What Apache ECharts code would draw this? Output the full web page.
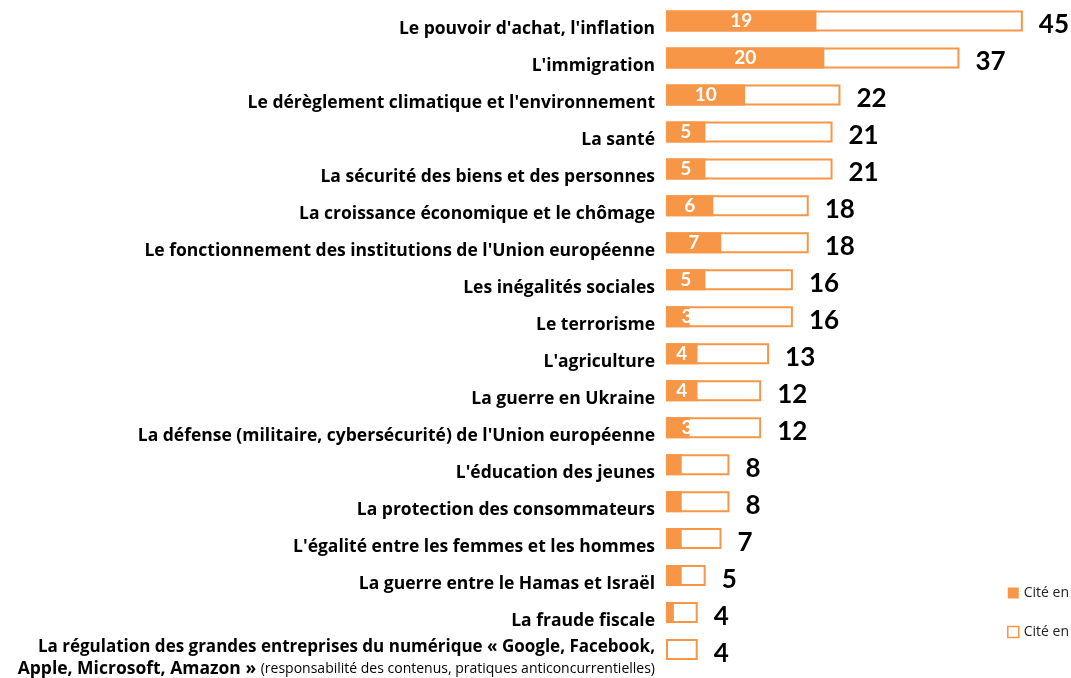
<!DOCTYPE html>
<html><head><meta charset="utf-8">
<script src="https://cdn.jsdelivr.net/npm/echarts@6/dist/echarts.min.js"></script>
<style>html,body{margin:0;padding:0;background:#fff}#c{width:1071px;height:678px}</style>
</head><body><div id="c"></div>
<script>
const categories = [
  "Le pouvoir d'achat, l'inflation",
  "L'immigration",
  "Le dérèglement climatique et l'environnement",
  "La santé",
  "La sécurité des biens et des personnes",
  "La croissance économique et le chômage",
  "Le fonctionnement des institutions de l'Union européenne",
  "Les inégalités sociales",
  "Le terrorisme",
  "L'agriculture",
  "La guerre en Ukraine",
  "La défense (militaire, cybersécurité) de l'Union européenne",
  "L'éducation des jeunes",
  "La protection des consommateurs",
  "L'égalité entre les femmes et les hommes",
  "La guerre entre le Hamas et Israël",
  "La fraude fiscale",
  "La régulation des grandes entreprises du numérique « Google, Facebook, Apple, Microsoft, Amazon » (responsabilité des contenus, pratiques anticoncurrentielles)"
];
const citeEnPremier = [19, 20, 10, 5, 5, 6, 7, 5, 3, 4, 4, 3, 2, 2, 2, 2, 1, 0];
const citeEnTout = [45, 37, 22, 21, 21, 18, 18, 16, 16, 13, 12, 12, 8, 8, 7, 5, 4, 4];
const seriesNames = ["Cité en premier", "Cité en tout"];

const ORANGE = '#F79646';
const FONT = '"Open Sans"';
const NUMFONT = 'Lato';

const remainder = citeEnTout.map((t, i) => t - citeEnPremier[i]);
const premierData = citeEnPremier.map(v => ({
  value: v,
  label: { show: v >= 3, offset: v === 3 ? [9, 0] : [0, 0] }
}));

const chart = echarts.init(document.getElementById('c'));
chart.setOption({
  animation: false,
  grid: { left: 666, right: 8.5, top: 2.5, bottom: 8.5, containLabel: false },
  xAxis: { type: 'value', min: 0, max: 50, show: false },
  yAxis: {
    type: 'category', inverse: true, data: categories,
    axisLine: { show: false }, axisTick: { show: false },
    axisLabel: {
      margin: 11, align: 'right',
      padding: [17, 0, 0, 0],
      fontFamily: FONT, fontWeight: 'bold', fontSize: 17.5, color: '#000',
      formatter: function (v) {
        const i1 = v.indexOf(' Apple');
        if (i1 < 0) return '{b|' + v + '}';
        const i2 = v.indexOf(' (');
        return '{c|' + v.slice(0, i1) + '}\n{b|' + v.slice(i1 + 1, i2) + '} {s|' + v.slice(i2 + 1) + '}';
      },
      rich: {
        b: { fontFamily: FONT, fontWeight: 'bold', fontSize: 17.5, color: '#000', lineHeight: 22, align: 'right' },
        c: { fontFamily: FONT, fontWeight: 'bold', fontSize: 17, color: '#000', lineHeight: 22, align: 'right' },
        s: { fontFamily: FONT, fontWeight: 'normal', fontSize: 14, color: '#000', lineHeight: 22, align: 'right' }
      }
    }
  },
  legend: {
    orient: 'vertical', left: 1002, top: 581, itemWidth: 11, itemHeight: 11, itemGap: 25,
    textStyle: { fontFamily: FONT, fontSize: 14, color: '#222' },
    data: [
      { name: seriesNames[0], icon: 'rect', itemStyle: { color: ORANGE } },
      { name: seriesNames[1], icon: 'rect', itemStyle: { color: '#fff', borderColor: ORANGE, borderWidth: 1.5 } }
    ]
  },
  series: [
    {
      name: seriesNames[0], type: 'bar', stack: 'a', z: 2, barWidth: 21,
      data: premierData,
      itemStyle: { color: ORANGE },
      label: { position: 'inside', color: '#fff', fontFamily: NUMFONT, fontWeight: 'bold', fontSize: 19 }
    },
    {
      name: 'reste', type: 'bar', stack: 'a', z: 3, barWidth: 21,
      data: remainder, itemStyle: { color: '#fff' }, silent: true
    },
    {
      name: seriesNames[1], type: 'bar', z: 4, barWidth: 21, barGap: '-100%',
      data: citeEnTout,
      itemStyle: { color: 'rgba(0,0,0,0)', borderColor: ORANGE, borderWidth: 2 },
      label: { show: true, position: 'right', distance: 16, offset: [0, 4], color: '#000', fontFamily: NUMFONT, fontWeight: 'bold', fontSize: 26 }
    }
  ]
});
</script></body></html>
